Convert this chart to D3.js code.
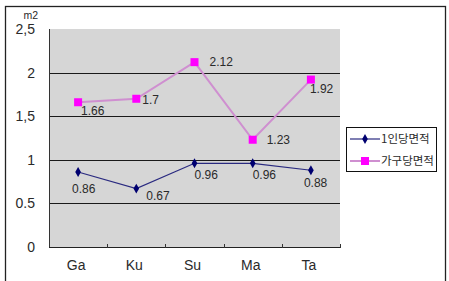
<!DOCTYPE html>
<html>
<head>
<meta charset="utf-8">
<script src="https://cdn.jsdelivr.net/npm/d3@7"></script>
<style>
  body { margin: 0; background: #fff; }
  svg text { font-family: "Liberation Sans", Arial, sans-serif; fill: #2a2a2a; }
  .kr { font-family: "Noto Sans CJK KR", sans-serif; }
</style>
</head>
<body>
<svg id="chart"></svg>
<script>
// data
const categories = ['Ga', 'Ku', 'Su', 'Ma', 'Ta'];
const perPerson = [0.86, 0.67, 0.96, 0.96, 0.88];
const perHousehold = [1.66, 1.7, 2.12, 1.23, 1.92];
const seriesNames = ['1인당면적', '가구당면적'];
const yTicks = [0, 0.5, 1, 1.5, 2, 2.5];
const yTickLabels = ['0', '0.5', '1', '1,5', '2', '2,5'];
const unitLabel = 'm2';

const width = 449, height = 281;
const margin = { top: 29, right: 109, bottom: 34, left: 49 };
const innerW = width - margin.left - margin.right;
const innerH = height - margin.top - margin.bottom;

const svg = d3.select('#chart').attr('width', width).attr('height', height);

// outer frame
svg.append('rect')
  .attr('x', 5.5).attr('y', 6.5)
  .attr('width', 440).attr('height', 290)
  .attr('fill', 'none').attr('stroke', '#222').attr('stroke-width', 1.3);

const g = svg.append('g').attr('transform', `translate(${margin.left},${margin.top})`);

const x = d3.scaleBand().domain(categories).range([0, innerW]);
const y = d3.scaleLinear().domain([0, 2.5]).range([innerH, 0]);

// plot background
g.append('rect')
  .attr('width', innerW).attr('height', innerH)
  .attr('fill', '#d6d6d6');

// gridlines
g.selectAll('.grid')
  .data(yTicks.filter(d => d > 0 && d < 2.5))
  .join('line')
  .attr('class', 'grid')
  .attr('x1', 0).attr('x2', innerW)
  .attr('y1', d => Math.round(y(d)) + 0.5).attr('y2', d => Math.round(y(d)) + 0.5)
  .attr('stroke', '#1a1a1a').attr('stroke-width', 1);

// axes lines
g.append('line').attr('x1', 0.5).attr('x2', 0.5).attr('y1', 0).attr('y2', innerH)
  .attr('stroke', '#333');
g.append('line').attr('x1', 0).attr('x2', innerW).attr('y1', innerH + 0.5).attr('y2', innerH + 0.5)
  .attr('stroke', '#222');

// category boundary ticks
g.selectAll('.xtick')
  .data(categories.slice(1).concat(['end']))
  .join('line')
  .attr('x1', (d, i) => Math.round(x.step() * (i + 1)) + 0.5)
  .attr('x2', (d, i) => Math.round(x.step() * (i + 1)) + 0.5)
  .attr('y1', innerH - 3).attr('y2', innerH + 1)
  .attr('stroke', '#333');

// y labels
g.selectAll('.ylab')
  .data(yTicks)
  .join('text')
  .attr('x', -14).attr('y', d => y(d) + 5)
  .attr('text-anchor', 'end')
  .style('font-size', '14px')
  .text((d, i) => yTickLabels[i]);

svg.append('text')
  .attr('x', 38).attr('y', 19)
  .attr('text-anchor', 'end')
  .style('font-size', '10.5px')
  .text(unitLabel);

// x labels
g.selectAll('.xlab')
  .data(categories)
  .join('text')
  .attr('x', d => x(d) + x.bandwidth() / 2 - 2)
  .attr('y', innerH + 23)
  .attr('text-anchor', 'middle')
  .style('font-size', '14px')
  .text(d => d);

const cx = i => x(categories[i]) + x.bandwidth() / 2;
const line = d3.line().x((d, i) => cx(i)).y(d => y(d));

// household series
g.append('path').datum(perHousehold)
  .attr('d', line).attr('fill', 'none')
  .attr('stroke', '#cf8fd0').attr('stroke-width', 2);
g.selectAll('.sq').data(perHousehold).join('rect')
  .attr('x', (d, i) => cx(i) - 4).attr('y', d => y(d) - 4)
  .attr('width', 8).attr('height', 8)
  .attr('fill', '#ff00ff');

// per-person series
g.append('path').datum(perPerson)
  .attr('d', line).attr('fill', 'none')
  .attr('stroke', '#2a2a80').attr('stroke-width', 1.2);
g.selectAll('.dm').data(perPerson).join('path')
  .attr('d', d3.symbol(d3.symbolDiamond, 28))
  .attr('transform', (d, i) => `translate(${cx(i)},${y(d)})`)
  .attr('fill', '#000070');

// data labels (manual placement offsets as in the original)
const hhOffset = [[3, 13], [6, 5], [15, 4], [14, 4], [-1, 13]];
const ppOffset = [[-6, 21], [10, 11], [0, 16], [0, 16], [-7, 17]];
const fmt = d => String(d);

g.selectAll('.hhl').data(perHousehold).join('text')
  .attr('x', (d, i) => cx(i) + hhOffset[i][0])
  .attr('y', (d, i) => y(d) + hhOffset[i][1])
  .style('font-size', '12px')
  .text(fmt);
g.selectAll('.ppl').data(perPerson).join('text')
  .attr('x', (d, i) => cx(i) + ppOffset[i][0])
  .attr('y', (d, i) => y(d) + ppOffset[i][1])
  .style('font-size', '12px')
  .text(fmt);

// legend
const lg = svg.append('g').attr('transform', 'translate(346,127)');
lg.append('rect').attr('x', 0.5).attr('y', 0.5).attr('width', 90).attr('height', 44)
  .attr('fill', '#fff').attr('stroke', '#111');
const legendRows = [
  { name: seriesNames[0], color: '#2a2a80', w: 1.2, marker: 'diamond' },
  { name: seriesNames[1], color: '#cf8fd0', w: 2, marker: 'square' }
];
legendRows.forEach((r, i) => {
  const yy = 12 + i * 22;
  lg.append('line').attr('x1', 4).attr('x2', 34).attr('y1', yy).attr('y2', yy)
    .attr('stroke', r.color).attr('stroke-width', r.w);
  if (r.marker === 'diamond') {
    lg.append('path').attr('d', d3.symbol(d3.symbolDiamond, 28))
      .attr('transform', `translate(19,${yy})`).attr('fill', '#000070');
  } else {
    lg.append('rect').attr('x', 15).attr('y', yy - 4).attr('width', 8).attr('height', 8)
      .attr('fill', '#ff00ff');
  }
  lg.append('text').attr('class', 'kr')
    .attr('x', 35).attr('y', yy + 4)
    .style('font-size', '11.5px')
    .text(r.name);
});
</script>
</body>
</html>
